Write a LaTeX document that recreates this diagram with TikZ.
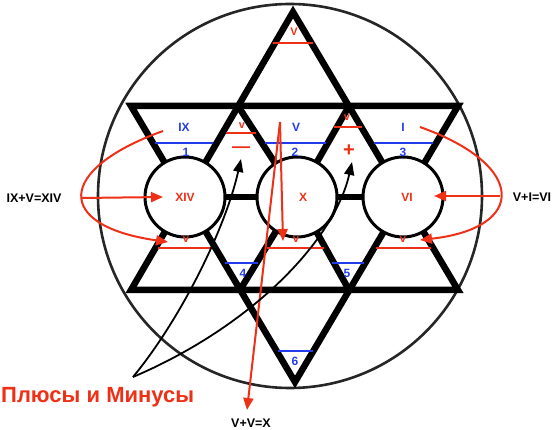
\documentclass[tikz,border=0pt]{standalone}
\usepackage{fontspec}
\setmainfont{Liberation Sans}
\usetikzlibrary{arrows.meta}
\definecolor{myred}{RGB}{238,48,22}
\definecolor{myblue}{RGB}{35,60,235}
\tikzset{
  starline/.style={black, line width=6.5pt, line join=miter},
  midbar/.style={black, line width=6pt},
  bluebar/.style={myblue, line width=2pt},
  redbar/.style={myred, line width=2pt},
  ring/.style={circle, draw=black, line width=3pt, fill=white, minimum size=80pt, inner sep=0pt, text=myred, font=\bfseries\fontsize{12}{12}\selectfont},
  bluelab/.style={text=myblue, inner sep=0pt, font=\bfseries\fontsize{12}{12}\selectfont},
  vlab/.style={text=myred, inner sep=0pt, font=\bfseries\fontsize{11}{11}\selectfont},
  eqlab/.style={text=black, inner sep=0pt, font=\bfseries\fontsize{12.5}{13}\selectfont},
  redarrow/.style={myred, line width=2pt, -{Triangle[length=12pt,width=10pt]}},
  blackarrow/.style={black, line width=1.8pt, -{Triangle[length=13pt,width=10pt]}}
}
\begin{document}
\begin{tikzpicture}[x=1pt,y=-1pt]
\useasboundingbox (0,0) rectangle (554,430);
% outer circle
\draw[black!85, line width=2.6pt] (290,196) circle (192pt);
% star points
\coordinate (T) at (293,12);
\coordinate (BL) at (131,290);
\coordinate (BR) at (458,290);
\coordinate (TL) at (131,106);
\coordinate (TR) at (458,106);
\coordinate (B) at (295,382);
\coordinate (p1l) at (238,106);
\coordinate (p1r) at (349,106);
\coordinate (p3l) at (240,290);
\coordinate (p3r) at (349,290);
\coordinate (cxiv) at (185,197);
\coordinate (cx) at (297,197);
\coordinate (cvi) at (403,197);
% star
\draw[starline] (T) -- (BL) -- (BR) -- cycle;
\draw[starline] (TL) -- (TR) -- (B) -- cycle;
\draw[starline] (p1l) -- (cx) -- (p1r);
\draw[starline] (p3l) -- (cx) -- (p3r);
\draw[midbar] (cxiv) -- (cvi);
% blue bars
\draw[bluebar] (155,143) -- (213,143);
\draw[bluebar] (265,143) -- (326,143);
\draw[bluebar] (374,143) -- (433,143);
\draw[bluebar] (225,263) -- (258,263);
\draw[bluebar] (332,263) -- (364,263);
\draw[bluebar] (278,351) -- (313,351);
% red bars
\draw[redbar] (273,43) -- (313,43);
\draw[redbar] (226,133) -- (256,133);
\draw[redbar] (334,127) -- (362,127);
\draw[redbar] (158,248) -- (212,248);
\draw[redbar] (267,248) -- (324,248);
\draw[redbar] (376,248) -- (431,248);
% circles
\node[ring] (xiv) at (cxiv) {XIV};
\node[ring] (x) at (cx) {\hspace*{12pt}X};
\node[ring] (vi) at (cvi) {\hspace*{8pt}VI};
% blue labels
\node[bluelab] (lix) at (184,127) {IX};
\node[bluelab] (lv) at (296,127) {V};
\node[bluelab] (li) at (403,127) {I};
\node[bluelab] (n1) at (186,152) {1};
\node[bluelab] (n2) at (295,152) {2};
\node[bluelab] (n3) at (403,152) {3};
\node[bluelab] (n4) at (243,273) {4};
\node[bluelab] (n5) at (347,273) {5};
\node[bluelab] (n6) at (295,361) {6};
% red small labels
\node[vlab] (vtop) at (294,32) {V};
\node[vlab] (v1) at (242,126) {v};
\node[vlab] (v2) at (347,118) {v};
\node[vlab] (v3) at (186,240) {v};
\node[vlab] (v4) at (296,240) {v};
\node[vlab] (v5) at (403,240) {v};
\node[text=myred, inner sep=0pt, font=\bfseries\fontsize{18}{18}\selectfont] (minus) at (241,150) {—};
\node[text=myred, inner sep=0pt, font=\bfseries\fontsize{20}{20}\selectfont] (plus) at (349,151) {+};
% equation labels
\node[eqlab] (eql) at (34,198) {IX+V=XIV};
\node[eqlab] (eqr) at (532,197) {V+I=VI};
\node[eqlab] (eqm) at (251,423) {V+V=X};
\node[text=myred, inner sep=0pt, anchor=west, font=\bfseries\fontsize{22}{22}\selectfont] (pm) at (1,397) {Плюсы и Минусы};
% red arrow coordinates
\coordinate (ls) at (163,131);
\coordinate (lvx) at (82,198);
\coordinate (ltip) at (168,242);
\coordinate (lxtip) at (163,197);
\coordinate (rs) at (420,127);
\coordinate (rvx) at (500,196);
\coordinate (rtip) at (420,240);
\coordinate (rxtip) at (434,196);
\coordinate (ms) at (280,122);
\coordinate (mtip1) at (283,241);
\coordinate (mtip2) at (247,410);
% red arrows
\draw[redarrow] (ls) .. controls (55,170) and (55,226) .. (ltip);
\draw[redarrow] (lvx) -- (lxtip);
\draw[redarrow] (rs) .. controls (527,165) and (527,228) .. (rtip);
\draw[redarrow] (rvx) -- (rxtip);
\draw[redarrow] (ms) -- (mtip1);
\draw[redarrow] (ms) -- (mtip2);
% black arrows
\coordinate (bv) at (133,377);
\coordinate (btip1) at (241,159);
\coordinate (btip2) at (352,162);
\draw[blackarrow] (bv) .. controls (180,320) and (225,230) .. (btip1);
\draw[blackarrow] (bv) .. controls (255,325) and (335,238) .. (btip2);
\end{tikzpicture}
\end{document}
